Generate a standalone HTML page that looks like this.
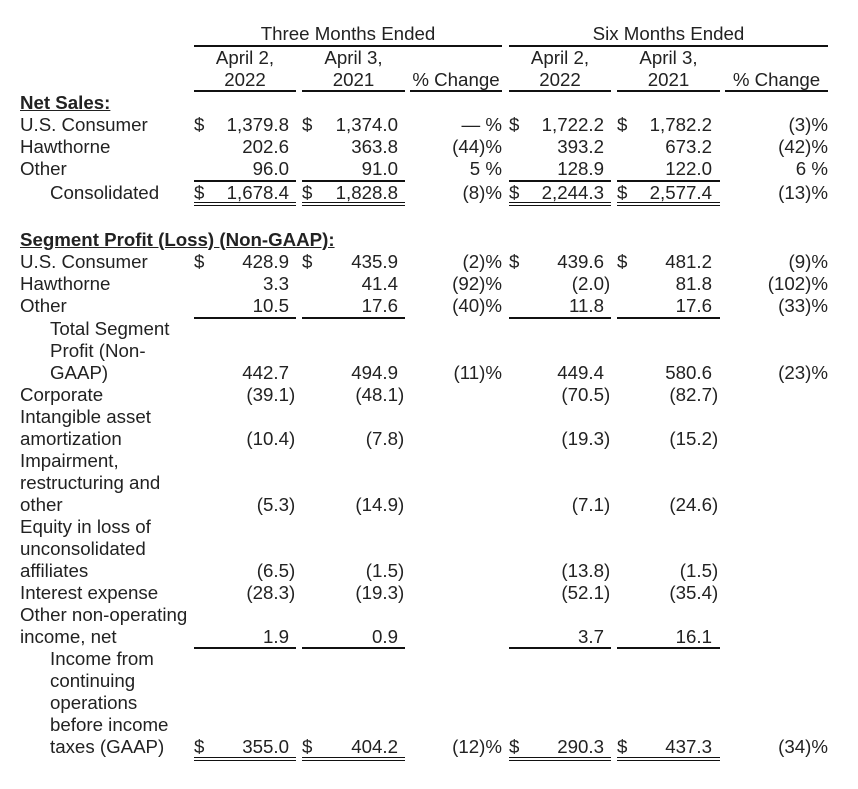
<!DOCTYPE html>
<html>
<head>
<meta charset="utf-8">
<style>
html,body{margin:0;padding:0;background:#fff;}
body{width:858px;height:789px;position:relative;overflow:hidden;font-family:"Liberation Sans",Arial,sans-serif;font-size:18.7px;color:#222;}
.row{position:absolute;left:0;width:858px;height:22px;}
.row div{position:absolute;top:0;white-space:nowrap;line-height:22px;}
.l{left:20px;}
.li{left:50px;}
.b{font-weight:bold;text-decoration:underline;}
.dA{left:194px;} .dB{left:302px;} .dD{left:509px;} .dE{left:617px;}
.A{right:569px;text-align:right;} .B{right:460px;text-align:right;}
.C{right:356px;text-align:right;} .D{right:254px;text-align:right;}
.E{right:146px;text-align:right;} .F{right:30px;text-align:right;}
.p{margin-right:-0.333em;}
.hc{text-align:center;}
.ln{position:absolute;background:#111;}
</style>
</head>
<body>

<!-- header -->
<div class="row" style="top:22.5px"><div class="hc" style="left:194px;width:308px">Three Months Ended</div><div class="hc" style="left:509px;width:319px">Six Months Ended</div></div>
<div class="ln" style="left:194px;width:308px;top:45px;height:2px"></div>
<div class="ln" style="left:509px;width:319px;top:45px;height:2px"></div>
<div class="row" style="top:46.5px">
<div class="hc" style="left:194px;width:102px">April 2,</div>
<div class="hc" style="left:302px;width:103px">April 3,</div>
<div class="hc" style="left:509px;width:102px">April 2,</div>
<div class="hc" style="left:617px;width:103px">April 3,</div>
</div>
<div class="row" style="top:68.5px">
<div class="hc" style="left:194px;width:102px">2022</div>
<div class="hc" style="left:302px;width:103px">2021</div>
<div class="hc" style="left:410px;width:92px">% Change</div>
<div class="hc" style="left:509px;width:102px">2022</div>
<div class="hc" style="left:617px;width:103px">2021</div>
<div class="hc" style="left:725px;width:103px">% Change</div>
</div>
<div class="ln" style="left:194px;width:102px;top:90px;height:1.5px"></div>
<div class="ln" style="left:302px;width:103px;top:90px;height:1.5px"></div>
<div class="ln" style="left:410px;width:92px;top:90px;height:1.5px"></div>
<div class="ln" style="left:509px;width:102px;top:90px;height:1.5px"></div>
<div class="ln" style="left:617px;width:103px;top:90px;height:1.5px"></div>
<div class="ln" style="left:725px;width:103px;top:90px;height:1.5px"></div>

<!-- Net Sales -->
<div class="row" style="top:91.5px"><div class="l b">Net Sales:</div></div>
<div class="row" style="top:113.5px"><div class="l">U.S. Consumer</div><div class="dA">$</div><div class="A">1,379.8</div><div class="dB">$</div><div class="B">1,374.0</div><div class="C">— %</div><div class="dD">$</div><div class="D">1,722.2</div><div class="dE">$</div><div class="E">1,782.2</div><div class="F">(3)%</div></div>
<div class="row" style="top:135.5px"><div class="l">Hawthorne</div><div class="A">202.6</div><div class="B">363.8</div><div class="C">(44)%</div><div class="D">393.2</div><div class="E">673.2</div><div class="F">(42)%</div></div>
<div class="row" style="top:157.5px"><div class="l">Other</div><div class="A">96.0</div><div class="B">91.0</div><div class="C">5 %</div><div class="D">128.9</div><div class="E">122.0</div><div class="F">6 %</div></div>
<div class="ln" style="left:194px;width:102px;top:180px;height:1.5px"></div>
<div class="ln" style="left:302px;width:103px;top:180px;height:1.5px"></div>
<div class="ln" style="left:509px;width:102px;top:180px;height:1.5px"></div>
<div class="ln" style="left:617px;width:103px;top:180px;height:1.5px"></div>
<div class="row" style="top:181.5px"><div class="li">Consolidated</div><div class="dA">$</div><div class="A">1,678.4</div><div class="dB">$</div><div class="B">1,828.8</div><div class="C">(8)%</div><div class="dD">$</div><div class="D">2,244.3</div><div class="dE">$</div><div class="E">2,577.4</div><div class="F">(13)%</div></div>
<div class="ln" style="left:194px;width:102px;top:202px;height:1px"></div>
<div class="ln" style="left:302px;width:103px;top:202px;height:1px"></div>
<div class="ln" style="left:509px;width:102px;top:202px;height:1px"></div>
<div class="ln" style="left:617px;width:103px;top:202px;height:1px"></div>
<div class="ln" style="left:194px;width:102px;top:205px;height:1px"></div>
<div class="ln" style="left:302px;width:103px;top:205px;height:1px"></div>
<div class="ln" style="left:509px;width:102px;top:205px;height:1px"></div>
<div class="ln" style="left:617px;width:103px;top:205px;height:1px"></div>

<!-- Segment -->
<div class="row" style="top:228.5px"><div class="l b">Segment Profit (Loss) (Non-GAAP):</div></div>
<div class="row" style="top:250.5px"><div class="l">U.S. Consumer</div><div class="dA">$</div><div class="A">428.9</div><div class="dB">$</div><div class="B">435.9</div><div class="C">(2)%</div><div class="dD">$</div><div class="D">439.6</div><div class="dE">$</div><div class="E">481.2</div><div class="F">(9)%</div></div>
<div class="row" style="top:272.5px"><div class="l">Hawthorne</div><div class="A">3.3</div><div class="B">41.4</div><div class="C">(92)%</div><div class="D">(2.0<span class="p">)</span></div><div class="E">81.8</div><div class="F">(102)%</div></div>
<div class="row" style="top:294.5px"><div class="l">Other</div><div class="A">10.5</div><div class="B">17.6</div><div class="C">(40)%</div><div class="D">11.8</div><div class="E">17.6</div><div class="F">(33)%</div></div>
<div class="ln" style="left:194px;width:102px;top:317px;height:2px"></div>
<div class="ln" style="left:302px;width:103px;top:317px;height:2px"></div>
<div class="ln" style="left:509px;width:102px;top:317px;height:2px"></div>
<div class="ln" style="left:617px;width:103px;top:317px;height:2px"></div>
<div class="row" style="top:317.5px"><div class="li">Total Segment</div></div>
<div class="row" style="top:339.5px"><div class="li">Profit (Non-</div></div>
<div class="row" style="top:361.5px"><div class="li">GAAP)</div><div class="A">442.7</div><div class="B">494.9</div><div class="C">(11)%</div><div class="D">449.4</div><div class="E">580.6</div><div class="F">(23)%</div></div>
<div class="row" style="top:383.5px"><div class="l">Corporate</div><div class="A">(39.1<span class="p">)</span></div><div class="B">(48.1<span class="p">)</span></div><div class="D">(70.5<span class="p">)</span></div><div class="E">(82.7<span class="p">)</span></div></div>
<div class="row" style="top:405.5px"><div class="l">Intangible asset</div></div>
<div class="row" style="top:427.5px"><div class="l">amortization</div><div class="A">(10.4<span class="p">)</span></div><div class="B">(7.8<span class="p">)</span></div><div class="D">(19.3<span class="p">)</span></div><div class="E">(15.2<span class="p">)</span></div></div>
<div class="row" style="top:449.5px"><div class="l">Impairment,</div></div>
<div class="row" style="top:471.5px"><div class="l">restructuring and</div></div>
<div class="row" style="top:493.5px"><div class="l">other</div><div class="A">(5.3<span class="p">)</span></div><div class="B">(14.9<span class="p">)</span></div><div class="D">(7.1<span class="p">)</span></div><div class="E">(24.6<span class="p">)</span></div></div>
<div class="row" style="top:515.5px"><div class="l">Equity in loss of</div></div>
<div class="row" style="top:537.5px"><div class="l">unconsolidated</div></div>
<div class="row" style="top:559.5px"><div class="l">affiliates</div><div class="A">(6.5<span class="p">)</span></div><div class="B">(1.5<span class="p">)</span></div><div class="D">(13.8<span class="p">)</span></div><div class="E">(1.5<span class="p">)</span></div></div>
<div class="row" style="top:581.5px"><div class="l">Interest expense</div><div class="A">(28.3<span class="p">)</span></div><div class="B">(19.3<span class="p">)</span></div><div class="D">(52.1<span class="p">)</span></div><div class="E">(35.4<span class="p">)</span></div></div>
<div class="row" style="top:603.5px"><div class="l">Other non-operating</div></div>
<div class="row" style="top:625.5px"><div class="l">income, net</div><div class="A">1.9</div><div class="B">0.9</div><div class="D">3.7</div><div class="E">16.1</div></div>
<div class="ln" style="left:194px;width:102px;top:647px;height:2px"></div>
<div class="ln" style="left:302px;width:103px;top:647px;height:2px"></div>
<div class="ln" style="left:509px;width:102px;top:647px;height:2px"></div>
<div class="ln" style="left:617px;width:103px;top:647px;height:2px"></div>
<div class="row" style="top:647.5px"><div class="li">Income from</div></div>
<div class="row" style="top:669.5px"><div class="li">continuing</div></div>
<div class="row" style="top:691.5px"><div class="li">operations</div></div>
<div class="row" style="top:713.5px"><div class="li">before income</div></div>
<div class="row" style="top:735.5px"><div class="li">taxes (GAAP)</div><div class="dA">$</div><div class="A">355.0</div><div class="dB">$</div><div class="B">404.2</div><div class="C">(12)%</div><div class="dD">$</div><div class="D">290.3</div><div class="dE">$</div><div class="E">437.3</div><div class="F">(34)%</div></div>
<div class="ln" style="left:194px;width:102px;top:757px;height:1px"></div>
<div class="ln" style="left:302px;width:103px;top:757px;height:1px"></div>
<div class="ln" style="left:509px;width:102px;top:757px;height:1px"></div>
<div class="ln" style="left:617px;width:103px;top:757px;height:1px"></div>
<div class="ln" style="left:194px;width:102px;top:760px;height:1px"></div>
<div class="ln" style="left:302px;width:103px;top:760px;height:1px"></div>
<div class="ln" style="left:509px;width:102px;top:760px;height:1px"></div>
<div class="ln" style="left:617px;width:103px;top:760px;height:1px"></div>

</body>
</html>
